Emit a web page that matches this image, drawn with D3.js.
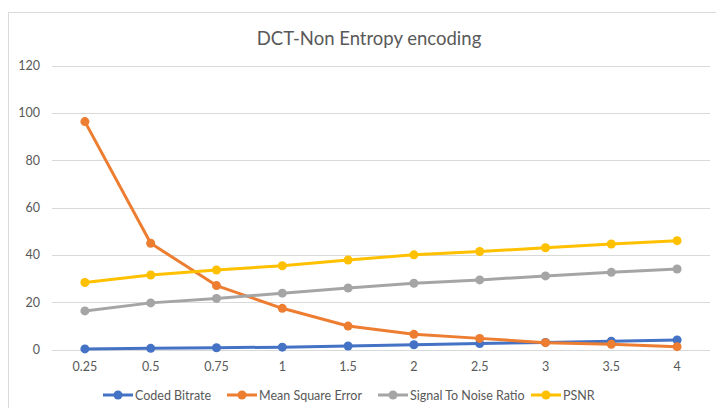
<!DOCTYPE html>
<html>
<head>
<meta charset="utf-8">
<script src="https://cdn.jsdelivr.net/npm/d3@7"></script>
<style>
  body { margin: 0; background: #fff; }
  svg { display: block; font-family: Lato, "Open Sans", sans-serif; }
</style>
</head>
<body>
<div id="container"></div>
<script>
// values
const bitrates = ['0.25', '0.5', '0.75', '1', '1.5', '2', '2.5', '3', '3.5', '4'];
const codedBitrate = [0.25, 0.5, 0.75, 1, 1.5, 2, 2.5, 3, 3.5, 4];
const meanSquareError = [96.3, 44.9, 27.0, 17.4, 9.9, 6.4, 4.7, 2.9, 2.2, 1.2];
const snr = [16.3, 19.7, 21.6, 23.8, 26.0, 28.0, 29.4, 31.1, 32.6, 34.0];
const psnr = [28.3, 31.5, 33.6, 35.4, 37.8, 40.0, 41.4, 43.0, 44.6, 46.0];
const yTicks = [0, 20, 40, 60, 80, 100, 120];

const series = [
  { name: 'Coded Bitrate', values: codedBitrate, color: '#4472C4' },
  { name: 'Mean Square Error', values: meanSquareError, color: '#ED7D31' },
  { name: 'Signal To Noise Ratio', values: snr, color: '#A5A5A5' },
  { name: 'PSNR', values: psnr, color: '#FFC000' }
];

const width = 716, height = 408;
const plotLeft = 52, plotRight = 710, plotTop = 65.5, plotBottom = 349.5;

const svg = d3.select('#container').append('svg')
    .attr('width', width)
    .attr('height', height);

// chart frame
svg.append('rect')
    .attr('x', 8.5).attr('y', 12.5)
    .attr('width', 740).attr('height', 420)
    .attr('fill', 'none')
    .attr('stroke', '#d9d9d9');

svg.append('text')
    .attr('x', 369).attr('y', 45)
    .attr('text-anchor', 'middle')
    .attr('font-size', 18.5)
    .attr('fill', '#595959')
    .text('DCT-Non Entropy encoding');

const x = d3.scalePoint().domain(bitrates).range([plotLeft, plotRight]).padding(0.5);
const y = d3.scaleLinear().domain([0, 120]).range([plotBottom, plotTop]);

// gridlines
svg.append('g').selectAll('line').data(yTicks).enter().append('line')
    .attr('x1', plotLeft).attr('x2', plotRight)
    .attr('y1', d => Math.round(y(d)) + 0.5)
    .attr('y2', d => Math.round(y(d)) + 0.5)
    .attr('stroke', '#d9d9d9');

svg.append('g').selectAll('text').data(yTicks).enter().append('text')
    .attr('x', 40)
    .attr('y', d => y(d) + 4.5)
    .attr('text-anchor', 'end')
    .attr('font-size', 12.5)
    .attr('fill', '#595959')
    .text(d => d);

svg.append('g').selectAll('text').data(bitrates).enter().append('text')
    .attr('x', d => x(d))
    .attr('y', 371)
    .attr('text-anchor', 'middle')
    .attr('font-size', 12.5)
    .attr('fill', '#595959')
    .text(d => d);

const line = d3.line()
    .x((d, i) => x(bitrates[i]))
    .y(d => y(d));

series.forEach(s => {
  const g = svg.append('g');
  g.append('path')
      .attr('d', line(s.values))
      .attr('fill', 'none')
      .attr('stroke', s.color)
      .attr('stroke-width', 3)
      .attr('stroke-linejoin', 'round');
  g.selectAll('circle').data(s.values).enter().append('circle')
      .attr('cx', (d, i) => x(bitrates[i]))
      .attr('cy', d => y(d))
      .attr('r', 4.5)
      .attr('fill', s.color);
});

// legend
const legendX = [103, 227, 378, 531];
const legend = svg.append('g').selectAll('g').data(series).enter().append('g')
    .attr('transform', (d, i) => `translate(${legendX[i]}, 395)`);
legend.append('line')
    .attr('x1', 0).attr('x2', 30)
    .attr('stroke', d => d.color)
    .attr('stroke-width', 3);
legend.append('circle')
    .attr('cx', 15).attr('r', 4.5)
    .attr('fill', d => d.color);
legend.append('text')
    .attr('x', 32).attr('y', 4.5)
    .attr('font-size', 12.5)
    .attr('fill', '#595959')
    .text(d => d.name);
</script>
</body>
</html>
